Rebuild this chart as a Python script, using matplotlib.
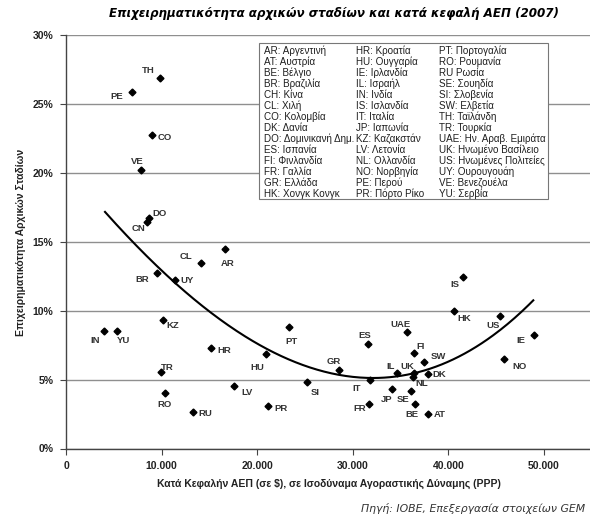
import numpy as np
import matplotlib
matplotlib.use("Agg")
import matplotlib.pyplot as plt
from matplotlib.patches import Rectangle

# ---------------- data ----------------
codes = ["TH", "PE", "CO", "VE", "DO", "CN", "CL", "AR", "BR", "UY", "KZ", "IN", "YU",
         "HR", "PT", "HU", "TR", "RO", "LV", "RU", "PR", "SI", "IS", "HK", "US", "IE",
         "NO", "UAE", "ES", "FI", "SW", "GR", "IL", "UK", "DK", "NL", "IT", "JP", "SE",
         "FR", "BE", "AT"]
gdp = [9830, 6870, 9030, 7850, 8720, 8440, 14090, 16630, 9480, 11400, 10110, 4010, 5370,
       15170, 23290, 20890, 9940, 10320, 17540, 13280, 21130, 25240, 41560, 40550, 45400, 48990,
       45780, 35640, 31560, 36440, 37450, 28520, 34660, 36400, 37870, 36330, 31800, 34070, 36120,
       31660, 36540, 37870]
tea = [26.9, 25.9, 22.75, 20.2, 16.75, 16.45, 13.45, 14.45, 12.75, 12.2, 9.35, 8.55, 8.55,
       7.3, 8.8, 6.85, 5.55, 4.05, 4.5, 2.65, 3.1, 4.8, 12.45, 10.0, 9.6, 8.25,
       6.5, 8.45, 7.6, 6.9, 6.3, 5.7, 5.45, 5.5, 5.4, 5.2, 5.0, 4.35, 4.15,
       3.2, 3.2, 2.5]

# trend line
trend_x = [4080, 6770, 11400, 15240, 20820, 26570, 31800, 36330, 38080, 45050, 48880]
trend_y = [17.18, 15.0, 12.23, 9.93, 6.91, 5.94, 5.09, 5.33, 5.70, 8.72, 10.58]

x_ticks = [0, 10000, 20000, 30000, 40000, 50000]
x_tick_labels = ["0", "10.000", "20.000", "30.000", "40.000", "50.000"]
y_ticks = [0, 5, 10, 15, 20, 25, 30]
y_tick_labels = ["0%", "5%", "10%", "15%", "20%", "25%", "30%"]

legend_col1 = ["AR: Αργεντινή", "AT: Αυστρία", "BE: Βέλγιο", "BR: Βραζιλία", "CH: Κίνα",
               "CL: Χιλή", "CO: Κολομβία", "DK: Δανία", "DO: Δομινικανή Δημ.", "ES: Ισπανία",
               "FI: Φινλανδία", "FR: Γαλλία", "GR: Ελλάδα", "HK: Χονγκ Κονγκ"]
legend_col2 = ["HR: Κροατία", "HU: Ουγγαρία", "IE: Ιρλανδία", "IL: Ισραήλ", "IN: Ινδία",
               "IS: Ισλανδία", "IT: Ιταλία", "JP: Ιαπωνία", "KZ: Καζακστάν", "LV: Λετονία",
               "NL: Ολλανδία", "NO: Νορβηγία", "PE: Περού", "PR: Πόρτο Ρίκο"]
legend_col3 = ["PT: Πορτογαλία", "RO: Ρουμανία", "RU Ρωσία", "SE: Σουηδία", "SI: Σλοβενία",
               "SW: Ελβετία", "TH: Ταϊλάνδη", "TR: Τουρκία", "UAE: Ην. Αραβ. Εμιράτα",
               "UK: Ηνωμένο Βασίλειο", "US: Ηνωμένες Πολιτείες", "UY: Ουρουγουάη",
               "VE: Βενεζουέλα", "YU: Σερβία"]

title = "Επιχειρηματικότητα αρχικών σταδίων και κατά κεφαλή ΑΕΠ (2007)"
xlabel = "Κατά Κεφαλήν ΑΕΠ (σε $), σε Ισοδύναμα Αγοραστικής Δύναμης (PPP)"
ylabel = "Επιχειρηματικότητα Αρχικών Σταδίων"
source = "Πηγή: ΙΟΒΕ, Επεξεργασία στοιχείων GEM"

# label offsets in pixels (dx right, dy down) -- layout only
label_offsets = {
    "TH": (-12, -7), "PE": (-15, 5), "CO": (12, 3), "VE": (-4, -9), "DO": (10, -4),
    "CN": (-8, 7), "CL": (-15, -7), "AR": (3, 14), "BR": (-14, 7), "UY": (12, 0),
    "KZ": (10, 6), "IN": (-9, 10), "YU": (6, 10), "HR": (13, 3), "PT": (3, 14),
    "HU": (-8, 13), "TR": (6, -5), "RO": (0, 12), "LV": (13, 6), "RU": (12, 2),
    "PR": (13, 3), "SI": (8, 10), "IS": (-8, 8), "HK": (11, 8), "US": (-7, 9),
    "IE": (-13, 6), "NO": (16, 8), "UAE": (-6, -8), "ES": (-3, -8), "FI": (6, -7),
    "SW": (14, -5), "GR": (-5, -8), "IL": (-7, -7), "UK": (-7, -6), "DK": (11, 0),
    "NL": (8, 7), "IT": (-13, 9), "JP": (-5, 11), "SE": (-8, 8), "FR": (-9, 4),
    "BE": (-3, 10), "AT": (12, 0),
}

# ---------------- figure ----------------
W, H = 590, 521
fig = plt.figure(figsize=(W / 100, H / 100), dpi=100)
fig.patch.set_facecolor("white")

def fx(px):
    return px / W

def fy(py):
    return 1 - py / H

ax_left, ax_right = 66, 590
ax_top, ax_bottom = 35, 448.5
ax = fig.add_axes([fx(ax_left), fy(ax_bottom), fx(ax_right - ax_left), (ax_bottom - ax_top) / H])
ax.set_xlim(0, (ax_right - ax_left) / 0.00956)
ax.set_ylim(0, 30)
ax.set_axisbelow(True)

FONT = ["Liberation Sans", "DejaVu Sans"]
txtc = "#222222"

ax.set_yticks(y_ticks)
ax.set_yticklabels(y_tick_labels, fontfamily=FONT, fontweight="bold", fontsize=7.5, color=txtc)
ax.set_xticks(x_ticks)
ax.set_xticklabels(x_tick_labels, fontfamily=FONT, fontweight="bold", fontsize=7.5, color=txtc)
ax.tick_params(axis="both", direction="out", length=4, width=0.8, color="#444444", pad=5)
ax.yaxis.grid(True, color="#8f8f8f", linewidth=1.0)
for s in ["top", "right"]:
    ax.spines[s].set_visible(False)
for s in ["left", "bottom"]:
    ax.spines[s].set_color("#444444")
    ax.spines[s].set_linewidth(1.0)

# scatter
ax.plot(gdp, tea, linestyle="none", marker="D", markersize=3.5, color="black", zorder=5)
for c, x, y in zip(codes, gdp, tea):
    dx, dy = label_offsets[c]
    ax.annotate(c, (x, y), xytext=(dx, -dy), textcoords="offset pixels", ha="center", va="center",
                fontfamily=FONT, fontweight="bold", fontsize=6.8, color="#333333", zorder=6)

# trend curve (smooth cubic through read points)
coef = np.polyfit(trend_x, trend_y, 3)
xs = np.linspace(trend_x[0], trend_x[-1], 300)
ax.plot(xs, np.polyval(coef, xs), color="black", linewidth=1.5, zorder=4)

# legend box
box = Rectangle((fx(259), fy(199)), fx(548 - 259), (199 - 43) / H, transform=fig.transFigure,
                facecolor="white", edgecolor="#777777", linewidth=0.8, zorder=3)
ax.add_artist(box)
box.set_clip_on(False)
for col, xpx in ((legend_col1, 264), (legend_col2, 356), (legend_col3, 439)):
    for i, t in enumerate(col):
        fig.text(fx(xpx), fy(50.5 + i * 11.02), t, ha="left", va="center", fontfamily=FONT,
                 fontsize=7.15, color="#1e1e1e", zorder=7)

# titles and labels
fig.text(fx(334), fy(13), title, ha="center", va="center", fontfamily=["DejaVu Sans"],
         fontweight="bold", fontstyle="italic", fontsize=8.6, color="black")
fig.text(fx(329), fy(484), xlabel, ha="center", va="center", fontfamily=FONT,
         fontweight="bold", fontsize=7.5, color=txtc)
fig.text(fx(21), fy(242), ylabel, ha="center", va="center", rotation=90, fontfamily=FONT,
         fontweight="bold", fontsize=7.5, color=txtc)
fig.text(fx(585), fy(508), source, ha="right", va="center", fontfamily=["DejaVu Sans"],
         fontstyle="italic", fontsize=7.8, color="#333333")

fig.savefig("out.png", dpi=100)
